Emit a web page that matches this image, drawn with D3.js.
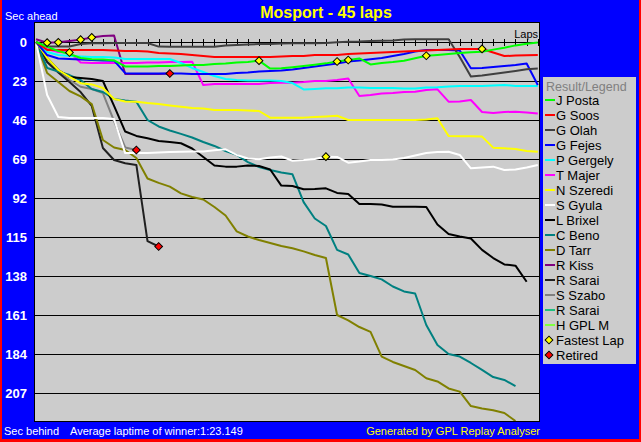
<!DOCTYPE html>
<html>
<head>
<meta charset="utf-8">
<script src="https://cdn.jsdelivr.net/npm/d3@7"></script>
<style>
    body { margin: 0; background: #0000ff; }
    svg { display: block; font-family: "Liberation Sans", Arial, sans-serif; }
</style>
</head>
<body>
<div class="chart"></div>
<script>
// drivers in legend order, and their line colours
var drivers = ["J Posta", "G Soos", "G Olah", "G Fejes", "P Gergely", "T Majer", "N Szeredi", "S Gyula",
    "L Brixel", "C Beno", "D Tarr", "R Kiss", "R Sarai", "S Szabo", "R Sarai", "H GPL M"];
var lineColors = ["#00ff00", "#ff0000", "#404040", "#0000ff", "#00ffff", "#ff00ff", "#ffff00", "#ffffff",
    "#000000", "#008080", "#808000", "#800080", "#202020", "#808080", "#20c080", "#80ff40"];

// seconds behind (positive) / ahead (negative) after each lap, lap 0 first
var gapPosta = [0, 2.9, 5.3, 7.1, 9.4, 10.2, 10.3, 10.9, 14.4, 14.4, 14.4, 14.2, 14.2, 13.9, 13.6, 13.6, 13.0, 12.7, 12.1, 11.8,
    11.0, 15.7, 15.5, 14.9, 14.2, 13.4, 12.6, 11.5, 10.6, 9.7, 13.2, 12.4, 11.8, 11.0, 9.6, 8.1, 7.6, 7.1, 6.5, 6.1, 5.7, 4.5, 3.4, 2.0, 1.0, 0.3];
var gapSoos = [0, 4.7, 4.7, 4.7, 4.7, 4.7, 4.7, 5.0, 5.3, 5.3, 5.6, 6.5, 6.8, 7.1, 7.7, 8.3, 8.8, 8.8, 8.8, 8.8,
    8.8, 8.8, 8.6, 8.3, 8.3, 7.7, 7.7, 7.7, 7.1, 6.8, 6.5, 6.2, 5.9, 5.6, 5.3, 5.0, 4.7, 4.4, 4.1, 4.1, 4.1, 6.2, 8.3, 8.0, 7.8, 7.7];
var gapOlah = [0, 2.7, 2.7, 2.7, 1.2, 0.8, 0.8, 0.6, 0.6, 0.6, 0.6, 2.7, 2.8, 2.8, 2.8, 2.8, 2.8, 2.1, 1.8, 1.5,
    1.2, 1.2, 0.9, 0.8, 0.8, 0.8, 0.6, 0.2, -0.2, -0.3, -0.6, -0.8, -0.9, -1.5, -1.6, -1.6, -1.6, -1.6, 8.8, 20.3, 19.8, 18.9, 18.0, 17.1, 16.1, 15.6];
var gapFejes = [0, 7.7, 9.7, 10.0, 10.3, 10.6, 10.9, 11.0, 18.4, 18.6, 18.6, 18.6, 18.6, 18.6, 18.9, 18.9, 18.9, 18.9, 18.3, 18.0,
    17.4, 17.1, 16.8, 16.2, 15.3, 14.4, 13.6, 12.7, 11.5, 10.9, 10.2, 9.4, 8.3, 7.1, 5.6, 4.7, 4.7, 4.7, 5.0, 15.5, 15.3, 14.7, 14.2, 13.6, 12.7, 25.4];
var gapGergely = [0, 5.9, 7.7, 8.3, 8.6, 8.8, 8.8, 9.1, 10.0, 10.0, 10.0, 10.0, 10.0, 12.4, 15.3, 17.7, 20.1, 21.8, 22.4, 22.7,
    22.7, 22.7, 23.0, 24.2, 28.0, 27.7, 27.3, 27.3, 26.8, 26.8, 27.1, 27.1, 27.1, 27.4, 27.4, 26.8, 26.7, 26.2, 25.9, 25.9, 25.9, 25.6, 25.4, 25.9, 25.9, 25.9];
var gapMajer = [0, 4.1, 5.9, 6.2, 12.1, 12.4, 12.4, 12.4, 12.4, 12.4, 12.1, 12.1, 11.8, 11.8, 11.6, 25.4, 24.8, 24.8, 24.8, 24.8,
    24.8, 24.2, 24.0, 24.0, 23.6, 23.0, 23.0, 22.4, 21.5, 31.8, 31.3, 30.4, 30.1, 29.5, 29.3, 28.3, 27.9, 35.2, 35.1, 34.2, 41.3, 41.9, 41.3, 41.1, 41.6, 42.2];
var gapSzeredi = [0, 9.4, 16.5, 20.6, 24.3, 25.0, 27.1, 33.6, 35.1, 35.2, 36.0, 36.6, 37.4, 38.2, 38.9, 39.2, 40.1, 40.1, 40.1, 40.4,
    40.7, 44.6, 44.6, 44.6, 44.6, 44.2, 43.9, 43.5, 46.0, 46.0, 46.0, 46.0, 46.0, 46.0, 46.0, 45.7, 45.0, 55.4, 55.6, 55.6, 55.8, 62.3, 62.7, 63.1, 64.3, 64.7];
var gapGyula = [0, 31.3, 44.2, 44.8, 44.8, 44.8, 44.8, 45.4, 65.5, 65.5, 65.5, 65.2, 64.9, 64.7, 64.6, 64.6, 63.9, 63.3, 66.6, 68.7,
    69.2, 68.1, 67.5, 70.0, 69.6, 69.0, 67.6, 67.8, 71.2, 70.5, 69.6, 69.6, 69.3, 68.4, 66.9, 65.5, 64.9, 64.7, 66.6, 74.5, 74.0, 73.5, 75.5, 75.2, 74.0, 72.5];
var gapBrixel = [0, 9.4, 16.5, 20.6, 21.2, 21.8, 23.0, 37.7, 52.8, 55.4, 56.8, 58.4, 59.0, 59.7, 62.8, 67.8, 72.8, 73.5, 73.5, 72.8,
    73.1, 75.2, 84.7, 84.9, 86.8, 86.7, 86.3, 89.0, 89.6, 95.5, 95.5, 95.8, 97.1, 97.1, 97.1, 97.3, 107.6, 113.2, 114.7, 115.9, 122.6, 127.4, 131.2, 131.9, 141.4];
var gapBeno = [0, 15.3, 17.4, 19.5, 22.4, 27.7, 29.5, 33.6, 34.5, 35.2, 46.0, 49.8, 52.2, 54.2, 56.3, 59.0, 61.3, 64.3, 66.6, 70.8,
    73.7, 75.5, 77.0, 78.0, 94.4, 104.1, 108.5, 122.6, 125.3, 136.2, 138.0, 140.0, 144.2, 147.1, 148.3, 166.9, 178.7, 184.0, 185.5, 189.3, 193.4, 197.6, 199.3, 202.9];
var gapTarr = [0, 18.3, 23.6, 28.9, 32.1, 36.6, 57.8, 62.2, 63.7, 68.4, 80.5, 83.1, 85.3, 89.3, 91.4, 92.9, 97.3, 102.3, 111.7, 114.7,
    116.8, 118.5, 120.3, 121.6, 123.5, 125.6, 127.4, 161.0, 164.2, 168.1, 171.0, 185.6, 188.7, 191.1, 193.4, 198.3, 200.2, 204.3, 206.2, 214.7, 216.1, 217.2, 218.8, 223.5];
var gapKiss = [-1.6, 0.4, 0.2, -0.6, -1.4, -2.7, -3.5, -3.8, 18.9, 18.9, 18.9, 18.9, 18.6];
var gapSarai = [0, 11.8, 18.0, 23.6, 29.5, 37.7, 62.5, 69.6, 71.5, 72.5, 117.4, 120.6];
var gapSzabo = [0, 11.8, 17.7, 22.4, 26.4, 27.7, 30.1, 46.6, 62.2, 63.7];
var gapSarai2 = [];
var gapGplM = [];

var gaps = [gapPosta, gapSoos, gapOlah, gapFejes, gapGergely, gapMajer, gapSzeredi, gapGyula,
    gapBrixel, gapBeno, gapTarr, gapKiss, gapSarai, gapSzabo, gapSarai2, gapGplM];

var yTicks = [0, 23, 46, 69, 92, 115, 138, 161, 184, 207];
var totalLaps = 45;
// [driver index, lap] where a new fastest lap was set
var fastestLaps = [[11, 1], [11, 2], [5, 3], [11, 4], [11, 5], [0, 20], [7, 26], [0, 27], [0, 28], [0, 35], [1, 40]];
var retired = [13, 12, 11];

var W = 641, H = 442;
var plot = { left: 34, top: 22, right: 540, bottom: 422 };

var svg = d3.select(".chart").append("svg")
    .attr("width", W)
    .attr("height", H);

svg.append("rect").attr("width", W).attr("height", H).attr("fill", "#0000ff");
// red frame edges
svg.append("rect").attr("x", 0).attr("y", 0).attr("width", 2).attr("height", H).attr("fill", "#ff0000");
svg.append("rect").attr("x", W - 2).attr("y", 0).attr("width", 2).attr("height", H).attr("fill", "#ff0000");
svg.append("rect").attr("x", 0).attr("y", H - 3).attr("width", W).attr("height", 3).attr("fill", "#ff0000");

var x = d3.scaleLinear().domain([0, totalLaps]).range([36, 537.8]);
var y = d3.scaleLinear().domain([0, 207]).range([42, 393]);

svg.append("text")
    .attr("x", 326)
    .attr("y", 18)
    .attr("text-anchor", "middle")
    .style("font-size", "16px")
    .style("font-weight", "bold")
    .attr("fill", "#ffff00")
    .text("Mosport - 45 laps");

svg.append("text").attr("x", 5).attr("y", 20).style("font-size", "11px").attr("fill", "#fff").text("Sec ahead");

svg.append("rect")
    .attr("x", plot.left + 0.5)
    .attr("y", plot.top + 0.5)
    .attr("width", plot.right - plot.left - 1)
    .attr("height", plot.bottom - plot.top - 1)
    .attr("fill", "#cccccc")
    .attr("stroke", "#000");

svg.append("clipPath").attr("id", "clip")
    .append("rect")
    .attr("x", plot.left + 1).attr("y", plot.top + 1)
    .attr("width", plot.right - plot.left - 2).attr("height", plot.bottom - plot.top - 2);

// horizontal grid lines
svg.selectAll(".grid")
    .data(yTicks)
    .enter().append("line")
    .attr("class", "grid")
    .attr("x1", plot.left).attr("x2", plot.right)
    .attr("y1", function(d) { return Math.round(y(d)) + 0.5; })
    .attr("y2", function(d) { return Math.round(y(d)) + 0.5; })
    .attr("stroke", "#000");

// lap ticks on the zero line
svg.selectAll(".lapTick")
    .data(d3.range(1, totalLaps + 1))
    .enter().append("line")
    .attr("class", "lapTick")
    .attr("x1", function(d) { return Math.round(x(d)) + 0.5; })
    .attr("x2", function(d) { return Math.round(x(d)) + 0.5; })
    .attr("y1", Math.round(y(0)) - 3)
    .attr("y2", Math.round(y(0)) + 4)
    .attr("stroke", "#000");

svg.append("text").attr("x", 538).attr("y", 38).attr("text-anchor", "end")
    .style("font-size", "11px").attr("fill", "#000").text("Laps");

svg.selectAll(".yLabel")
    .data(yTicks)
    .enter().append("text")
    .attr("class", "yLabel")
    .attr("x", 27)
    .attr("y", function(d) { return y(d); })
    .attr("dy", ".36em")
    .attr("text-anchor", "end")
    .style("font-size", "13px")
    .style("font-weight", "bold")
    .attr("fill", "#fff")
    .text(function(d) { return d; });

var line = d3.line()
    .x(function(d, i) { return x(i); })
    .y(function(d) { return y(d); });

var lines = svg.append("g").attr("clip-path", "url(#clip)");
// first drivers end up on top
d3.range(drivers.length - 1, -1, -1).forEach(function(i) {
    if (gaps[i].length < 2) return;
    lines.append("path")
        .attr("d", line(gaps[i]))
        .attr("fill", "none")
        .attr("stroke", lineColors[i])
        .attr("stroke-width", 2)
        .attr("stroke-linejoin", "round");
});

var diamond = d3.symbol().type(d3.symbolSquare).size(30);

svg.selectAll(".fastest")
    .data(fastestLaps)
    .enter().append("path")
    .attr("class", "fastest")
    .attr("d", diamond)
    .attr("transform", function(d) { return "translate(" + x(d[1]) + "," + y(gaps[d[0]][d[1]]) + ") rotate(45)"; })
    .attr("fill", "#ffff00")
    .attr("stroke", "#000");

svg.selectAll(".retired")
    .data(retired)
    .enter().append("path")
    .attr("class", "retired")
    .attr("d", diamond)
    .attr("transform", function(d) {
        var last = gaps[d].length - 1;
        return "translate(" + x(last) + "," + y(gaps[d][last]) + ") rotate(45)";
    })
    .attr("fill", "#ff0000")
    .attr("stroke", "#000");

// legend
var lg = svg.append("g").attr("transform", "translate(543,77)");
lg.append("rect").attr("width", 93).attr("height", 287).attr("fill", "#cccccc");
lg.append("text").attr("x", 3).attr("y", 14).style("font-size", "12.5px").attr("fill", "#808080").text("Result/Legend");

var rowH = 15;
var item = lg.selectAll(".item")
    .data(drivers)
    .enter().append("g")
    .attr("class", "item")
    .attr("transform", function(d, i) { return "translate(0," + (23 + i * rowH) + ")"; });
item.append("line").attr("x1", 2).attr("x2", 12).attr("stroke", function(d, i) { return lineColors[i]; }).attr("stroke-width", 2);
item.append("text").attr("x", 13).attr("dy", ".36em").style("font-size", "13px").attr("fill", "#000").text(function(d) { return d; });

var marks = [["Fastest Lap", "#ffff00"], ["Retired", "#ff0000"]];
var mk = lg.selectAll(".mark")
    .data(marks)
    .enter().append("g")
    .attr("class", "mark")
    .attr("transform", function(d, i) { return "translate(0," + (23 + (drivers.length + i) * rowH) + ")"; });
mk.append("path").attr("d", diamond).attr("transform", "translate(6,0) rotate(45)")
    .attr("fill", function(d) { return d[1]; }).attr("stroke", "#000");
mk.append("text").attr("x", 13).attr("dy", ".36em").style("font-size", "13px").attr("fill", "#000").text(function(d) { return d[0]; });

// footer
svg.append("text").attr("x", 4).attr("y", 435).style("font-size", "11px").attr("fill", "#fff").text("Sec behind");
svg.append("text").attr("x", 70).attr("y", 435).style("font-size", "11px").attr("fill", "#fff").text("Average laptime of winner:1:23.149");
svg.append("text").attr("x", 540).attr("y", 435).attr("text-anchor", "end").style("font-size", "11px").attr("fill", "#ffff00").text("Generated by GPL Replay Analyser");
</script>
</body>
</html>
